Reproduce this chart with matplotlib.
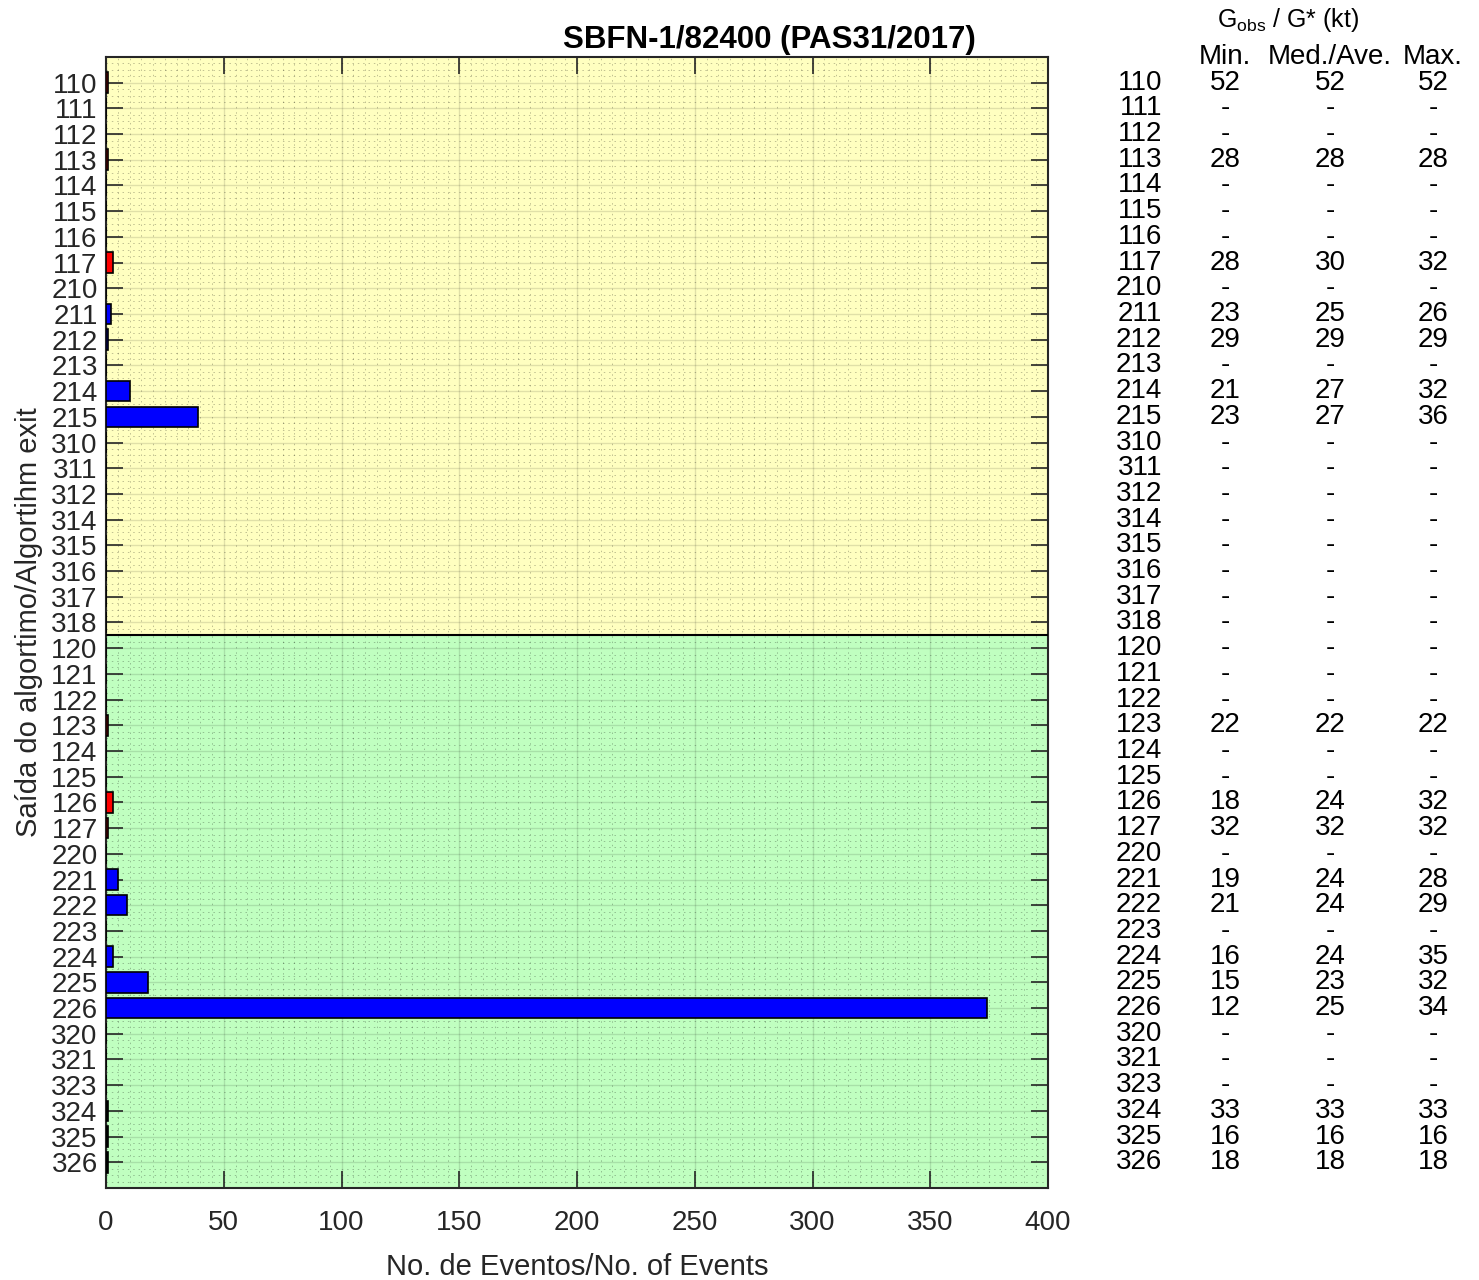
import matplotlib
matplotlib.use("Agg")
import matplotlib.pyplot as plt
import matplotlib.transforms as mtransforms
from matplotlib.ticker import MultipleLocator

plt.rcParams["font.family"] = ["Liberation Sans", "DejaVu Sans"]
plt.rcParams["mathtext.fontset"] = "custom"
plt.rcParams["mathtext.rm"] = "Liberation Sans"
plt.rcParams["mathtext.it"] = "Liberation Sans"

# Algorithm exit codes (top to bottom)
exits = ["110", "111", "112", "113", "114", "115", "116", "117",
         "210", "211", "212", "213", "214", "215",
         "310", "311", "312", "314", "315", "316", "317", "318",
         "120", "121", "122", "123", "124", "125", "126", "127",
         "220", "221", "222", "223", "224", "225", "226",
         "320", "321", "323", "324", "325", "326"]

# Number of events per exit
events = [1, 0, 0, 1, 0, 0, 0, 3,
          0, 2, 1, 0, 10, 39,
          0, 0, 0, 0, 0, 0, 0, 0,
          0, 0, 0, 1, 0, 0, 3, 1,
          0, 5, 9, 0, 3, 18, 374,
          0, 0, 0, 1, 1, 1]

# Gobs/G* table (kt)
g_min = ["52", "-", "-", "28", "-", "-", "-", "28",
         "-", "23", "29", "-", "21", "23",
         "-", "-", "-", "-", "-", "-", "-", "-",
         "-", "-", "-", "22", "-", "-", "18", "32",
         "-", "19", "21", "-", "16", "15", "12",
         "-", "-", "-", "33", "16", "18"]
g_med = ["52", "-", "-", "28", "-", "-", "-", "30",
         "-", "25", "29", "-", "27", "27",
         "-", "-", "-", "-", "-", "-", "-", "-",
         "-", "-", "-", "22", "-", "-", "24", "32",
         "-", "24", "24", "-", "24", "23", "25",
         "-", "-", "-", "33", "16", "18"]
g_max = ["52", "-", "-", "28", "-", "-", "-", "32",
         "-", "26", "29", "-", "32", "36",
         "-", "-", "-", "-", "-", "-", "-", "-",
         "-", "-", "-", "22", "-", "-", "32", "32",
         "-", "28", "29", "-", "35", "32", "34",
         "-", "-", "-", "33", "16", "18"]

n_top = 22  # exits in the yellow block

text_col = "#262626"
colour_map = {"1": "red", "2": "blue", "3": "black"}
fs = 20

fig = plt.figure(figsize=(14.79, 12.8), dpi=100)
ax = fig.add_axes([0.0717, 0.0719, 0.6369, 0.8836])

pos = list(range(len(exits)))
colors = [colour_map[e[0]] for e in exits]

# Background blocks
ax.axhspan(-1, n_top - 0.5, color="#ffffc0", zorder=0)
ax.axhspan(n_top - 0.5, len(exits), color="#c0ffc0", zorder=0)

ax.barh(pos, events, height=0.8, color=colors, edgecolor="black",
        linewidth=1.2, zorder=3)
ax.axhline(n_top - 0.5, color="black", linewidth=1.5, zorder=4)

ax.set_xlim(0, 400)
ax.set_ylim(len(exits), -1)
ax.set_yticks(pos)
ax.set_yticklabels(exits)
ax.xaxis.set_major_locator(MultipleLocator(50))
ax.xaxis.set_minor_locator(MultipleLocator(5))
ax.yaxis.set_minor_locator(MultipleLocator(0.25))

ax.grid(True, which="major", color="black", alpha=0.12, linewidth=1.0, zorder=1)
ax.grid(True, which="minor", color="black", alpha=0.25, linewidth=0.7,
        linestyle=(0, (1.5, 4)), zorder=1)
ax.set_axisbelow(True)

ax.tick_params(axis="both", which="major", direction="in", length=12,
               width=1.2, colors=text_col, labelsize=fs, top=True, right=True)
ax.tick_params(axis="both", which="minor", length=0)
ax.tick_params(axis="x", pad=16)
ax.tick_params(axis="y", pad=6)
for sp in ax.spines.values():
    sp.set_color(text_col)
    sp.set_linewidth(1.5)

ax.set_xlabel("No. de Eventos/No. of Events", fontsize=21, color=text_col,
              labelpad=12)
ax.set_ylabel("Saída do algortimo/Algortihm exit", fontsize=21, color=text_col,
              labelpad=6)

fig.text(769 / 1479, 1 - 40 / 1280, "SBFN-1/82400 (PAS31/2017)", ha="center",
         va="center", fontsize=22.5, fontweight="bold", color="black")

# Side table
trans = mtransforms.blended_transform_factory(fig.transFigure, ax.transData)
x_lab, x_min, x_med, x_max = 1162 / 1479, 1225 / 1479, 1330 / 1479, 1433 / 1479
for i, e in enumerate(exits):
    kw = dict(transform=trans, va="center", fontsize=fs, color="black",
              clip_on=False)
    fig.text(x_lab, i, e, ha="right", **kw)
    fig.text(x_min, i, g_min[i], ha="center", **kw)
    fig.text(x_med, i, g_med[i], ha="center", **kw)
    fig.text(x_max, i, g_max[i], ha="center", **kw)

hy = 1 - 64 / 1280
fig.text(x_min, hy, "Min.", ha="center", va="baseline", fontsize=fs)
fig.text(x_med, hy, "Med./Ave.", ha="center", va="baseline", fontsize=fs)
fig.text(x_max, hy, "Max.", ha="center", va="baseline", fontsize=fs)
fig.text(1288 / 1479, 1 - 20 / 1280, r"G$_{\mathrm{obs}}$ / G* (kt)",
         ha="center", va="center", fontsize=18)

fig.savefig("out.png", dpi=100)
